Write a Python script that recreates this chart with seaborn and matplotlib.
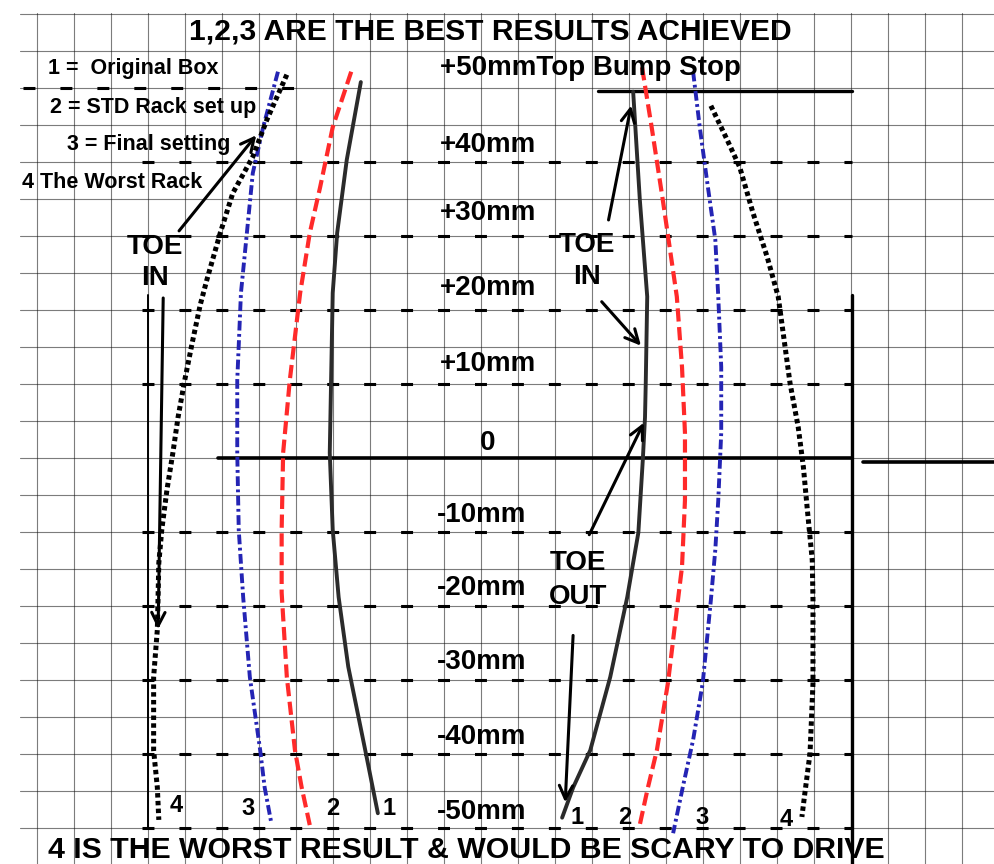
import numpy as np
import matplotlib.pyplot as plt
import seaborn as sns

# wheel travel (y, mm) against toe change (x, mm)
# 1 = original box (solid)
l1_x = [-18.4, -20.3, -21.6, -22.2, -22.6, -22.2, -21.4, -20.1, -17.8, -16.1]
l1_y = [50.8, 40.3, 30.4, 22.3, 0.7, -9.7, -18.8, -28.2, -39.5, -48.0]
r1_x = [18.4, 19.3, 20.3, 20.1, 20.0, 19.7, 19.1, 17.6, 15.3, 12.6, 10.3, 8.8]
r1_y = [49.5, 34.9, 21.8, 10.1, 5.5, -0.3, -10.1, -18.8, -29.6, -39.5, -44.5, -48.6]
# 2 = STD rack set up (red dashed)
l2_x = [-19.7, -22.2, -23.9, -25.3, -26.6, -28.0, -28.9, -29.1, -29.1, -28.4, -27.3, -26.4, -25.3]
l2_y = [52.2, 44.7, 36.6, 30.4, 22.3, 10.5, 0.7, -9.7, -18.2, -29.6, -39.5, -44.5, -49.6]
r2_x = [19.6, 20.9, 22.4, 24.3, 25.0, 25.4, 25.4, 25.0, 24.5, 23.1, 21.6, 20.4, 19.2]
r2_y = [52.8, 44.7, 34.9, 21.8, 12.3, 3.4, -5.7, -14.7, -18.8, -30.4, -39.5, -44.5, -50.0]
# 3 = final setting (blue dash-dot)
l3_x = [-29.6, -31.6, -33.0, -33.8, -34.6, -35.1, -35.1, -34.9, -34.3, -33.4, -32.0, -31.4, -30.5]
l3_y = [52.2, 44.7, 38.5, 30.4, 22.3, 10.5, 0.7, -9.7, -18.8, -29.6, -39.5, -44.5, -49.3]
r3_x = [26.5, 27.4, 28.5, 29.5, 29.9, 30.3, 30.3, 29.9, 29.5, 28.9, 27.8, 26.5, 25.1, 23.8]
r3_y = [52.2, 44.7, 36.6, 29.5, 21.8, 12.3, 3.4, -5.7, -12.4, -19.2, -30.4, -38.1, -44.5, -50.7]
# 4 = the worst rack (black dotted)
l4_x = [-28.4, -31.1, -33.0, -35.7, -37.4, -39.2, -40.1, -41.2, -42.2, -43.1, -43.8, -44.6, -45.3,
        -45.7, -45.9, -46.4, -46.4, -45.9, -45.7]
l4_y = [51.8, 45.7, 40.7, 35.8, 30.4, 24.1, 20.7, 15.5, 10.5, 5.5, 0.7, -4.3, -9.7,
        -14.2, -23.2, -29.6, -39.5, -44.5, -48.9]
r4_x = [28.9, 31.1, 32.8, 34.6, 36.5, 38.0, 39.6, 40.7, 41.4, 41.9, 42.6, 42.7, 42.7, 42.3, 41.6, 41.2]
r4_y = [47.6, 43.0, 39.3, 33.1, 27.2, 21.8, 10.1, 4.2, -1.2, -6.6, -13.8, -19.2, -30.4, -39.9, -45.3, -48.5]

# numbers written under each curve end
end_labels = ['4', '3', '2', '1', '1', '2', '3', '4']
end_label_x = [-43.4, -33.6, -22.2, -14.6, 10.8, 17.2, 27.7, 39.1]
end_label_y = [-47.0, -47.3, -47.3, -47.3, -48.6, -48.6, -48.6, -48.9]

travel_labels = ['+50mmTop Bump Stop', '+40mm', '+30mm', '+20mm', '+10mm', '0',
                 '-10mm', '-20mm', '-30mm', '-40mm', '-50mm']
travel_label_y = [52.7, 42.3, 33.1, 23.0, 12.7, 2.0, -7.7, -17.6, -27.6, -37.7, -47.8]
legend_lines = ['1 =  Original Box', '2 = STD Rack set up', '3 = Final setting', '4 The Worst Rack']

sns.set_theme(style='white')
plt.rcParams['font.family'] = ['Liberation Sans', 'DejaVu Sans']
plt.rcParams['text.color'] = 'black'
plt.rcParams['lines.scale_dashes'] = False

fig = plt.figure(figsize=(9.94, 8.64), dpi=100)
ax = fig.add_axes([0, 0, 1, 1])
ax.set_xlim(-67.16, 67.16)
ax.set_ylim(-54.86, 61.89)
ax.axis('off')

# graph paper
for gx in np.arange(-62.16, 67.2, 5):
    ax.axvline(gx, ymax=0.985, color='#111111', lw=0.8, alpha=0.55, zorder=1)
for gy in np.arange(-55, 62, 5):
    ax.axhline(gy, xmin=0.02, color='#111111', lw=0.8, alpha=0.55, zorder=1)
for gy in [40, 30, 20, 10, -10, -20, -30, -40, -50]:
    ax.plot([-48.0, 48.0], [gy, gy], color='black', lw=2.2,
            linestyle=(0, (8.6, 18.0)), zorder=2)
ax.plot([-64.0, -25.0], [50.0, 50.0], color='black', lw=2.2,
        linestyle=(0, (8.6, 18.0)), zorder=2)
# zero line, bump stop and frame edges
ax.plot([-37.7, 48.0], [0, 0], color='black', lw=2.6, zorder=2)
ax.plot([49.5, 67.2], [-0.5, -0.5], color='black', lw=2.6, zorder=2)
ax.plot([13.6, 48.0], [49.6, 49.6], color='black', lw=2.4, zorder=2)
ax.plot([48.0, 48.0], [-55, 22], color='black', lw=2.4, zorder=2)
ax.plot([-47.2, -47.2], [-50, 22], color='black', lw=1.4, zorder=2)

styles = {
    '1': dict(color='#2b2b2b', linewidth=2.8, linestyle='-'),
    '2': dict(color='#ff2a2a', linewidth=3.0, linestyle=(0, (9.5, 4.0))),
    '3': dict(color='#2424b4', linewidth=2.8, linestyle=(0, (7.0, 2.5, 2.0, 2.5))),
    '4': dict(color='black', linewidth=3.6, linestyle=(0, (3.2, 2.4))),
}
curves = [('1', l1_x, l1_y), ('1', r1_x, r1_y), ('2', l2_x, l2_y), ('2', r2_x, r2_y),
          ('3', l3_x, l3_y), ('3', r3_x, r3_y), ('4', l4_x, l4_y), ('4', r4_x, r4_y)]
for num, cx, cy in curves:
    sns.lineplot(x=cx, y=cy, sort=False, estimator=None, ax=ax, zorder=4, **styles[num])
    line = ax.lines[-1]
    line.set_linewidth(styles[num]['linewidth'])
    line.set_dash_capstyle('butt')

for lab, lx, ly in zip(end_labels, end_label_x, end_label_y):
    ax.text(lx, ly, lab, fontsize=17, fontweight='bold', ha='center', va='center', zorder=5)

# arrows
arrows = [((-43.2, 30.4), (-32.3, 43.9)), ((-45.1, 22.0), (-45.8, -23.5)),
          ((15.0, 31.8), (18.2, 48.0)), ((13.9, 21.4), (19.7, 14.9)),
          ((12.3, -10.7), (20.0, 5.1)), ((10.3, -23.6), (9.2, -46.9))]
for start, end in arrows:
    ax.annotate('', xy=end, xytext=start,
                arrowprops=dict(arrowstyle='->', lw=2.2, color='black', mutation_scale=24),
                zorder=5)

ax.text(-0.9, 57.6, '1,2,3 ARE THE BEST RESULTS ACHIEVED', fontsize=21.6, fontweight='bold',
        ha='center', va='center', zorder=6)
ax.text(-4.2, -53.0, '4 IS THE WORST RESULT & WOULD BE SCARY TO DRIVE', fontsize=21.8,
        fontweight='bold', ha='center', va='center', zorder=6)

for lab, ly in zip(travel_labels, travel_label_y):
    lx = -1.2 if lab == '0' else (-7.7 if lab.startswith('+') else -8.1)
    ax.text(lx, ly, lab, fontsize=20, fontweight='bold',
            ha='center' if lab == '0' else 'left', va='center', zorder=6)

for lab, lx, ly in zip(legend_lines, [-60.7, -60.4, -58.1, -64.2], [52.7, 47.4, 42.4, 37.2]):
    ax.text(lx, ly, lab, fontsize=15.5, fontweight='bold', ha='left', va='center', zorder=6)

toe = [('TOE', -46.2, 28.5), ('IN', -46.2, 24.3), ('TOE', 12.2, 28.8), ('IN', 12.2, 24.5),
       ('TOE', 10.9, -14.2), ('OUT', 10.9, -18.8)]
for lab, tx, ty in toe:
    ax.text(tx, ty, lab, fontsize=20, fontweight='bold', ha='center', va='center', zorder=6)

fig.savefig('out.png', dpi=100)
